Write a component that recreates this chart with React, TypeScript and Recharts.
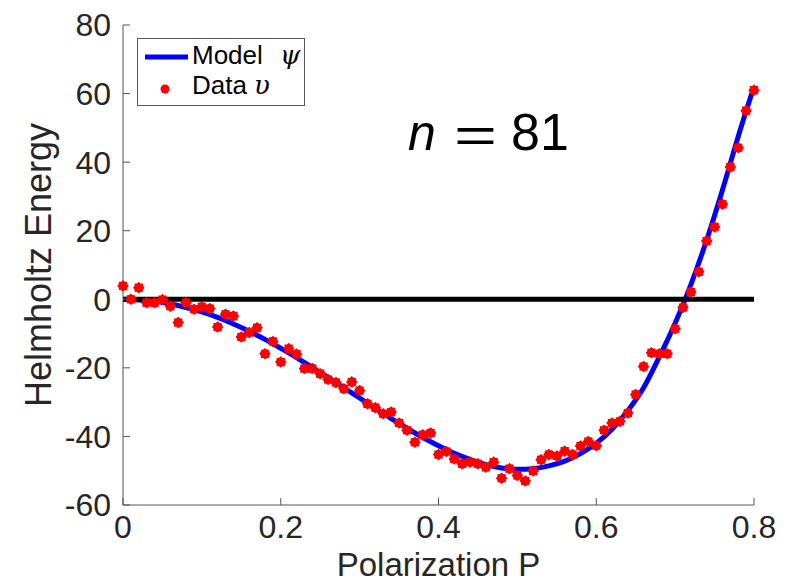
import React from 'react';
import { ComposedChart, Line, Scatter, XAxis, YAxis, ReferenceLine } from 'recharts';

// model curve psi(P)
const modelP = [
  0, 0.02, 0.04, 0.06, 0.08, 0.1, 0.12, 0.14, 0.16, 0.18, 0.2,
  0.22, 0.24, 0.26, 0.28, 0.3, 0.32, 0.34, 0.36, 0.38, 0.4,
  0.42, 0.44, 0.46, 0.48, 0.5, 0.52, 0.54, 0.56, 0.58, 0.6,
  0.62, 0.64, 0.66, 0.68, 0.7, 0.72, 0.74, 0.76, 0.78, 0.8,
];
const modelPsi = [
  0, -0.2, -0.6, -1.3, -2.4, -3.7, -5.3, -7.2, -9.3, -11.7, -14.3,
  -17.0, -19.9, -22.8, -25.8, -28.8, -31.8, -34.8, -37.6, -40.3, -42.7,
  -44.9, -46.7, -48.2, -49.2, -49.6, -49.4, -48.6, -47.2, -45.0, -42.0,
  -37.9, -32.5, -25.8, -16.8, -7.0, 4.3, 17.3, 31.9, 47.5, 62.0,
];

// data v (n = 81)
const dataP = [
  0, 0.01, 0.02, 0.03, 0.04, 0.05, 0.06, 0.07, 0.08, 0.09,
  0.1, 0.11, 0.12, 0.13, 0.14, 0.15, 0.16, 0.17, 0.18, 0.19,
  0.2, 0.21, 0.22, 0.23, 0.24, 0.25, 0.26, 0.27, 0.28, 0.29,
  0.3, 0.31, 0.32, 0.33, 0.34, 0.35, 0.36, 0.37, 0.38, 0.39,
  0.4, 0.41, 0.42, 0.43, 0.44, 0.45, 0.46, 0.47, 0.48, 0.49,
  0.5, 0.51, 0.52, 0.53, 0.54, 0.55, 0.56, 0.57, 0.58, 0.59,
  0.6, 0.61, 0.62, 0.63, 0.64, 0.65, 0.66, 0.67, 0.68, 0.69,
  0.7, 0.71, 0.72, 0.73, 0.74, 0.75, 0.76, 0.77, 0.78, 0.79,
  0.8,
];
const dataV = [
  3.9, 0.0, 3.4, -1.0, -1.0, -0.1, -2.0, -6.8, -1.0, -2.9,
  -2.2, -2.7, -8.1, -4.4, -4.9, -11.0, -9.7, -8.3, -15.9, -12.3,
  -18.3, -14.4, -16.0, -20.2, -20.2, -21.7, -23.4, -24.3, -26.1, -24.1,
  -26.6, -30.5, -31.6, -33.4, -32.9, -36.1, -38.2, -41.7, -39.5, -39.0,
  -45.3, -44.4, -46.6, -48.0, -47.5, -48.0, -49.0, -47.5, -52.2, -49.4,
  -51.4, -53.0, -50.1, -46.8, -45.3, -45.7, -44.3, -45.3, -42.8, -41.5,
  -42.7, -38.2, -36.1, -35.6, -33.2, -27.8, -19.6, -15.6, -15.9, -15.9,
  -8.6, -2.4, 2.1, 8.0, 17.0, 21.1, 27.7, 38.6, 44.2, 55.0,
  61.0,
];

const xTicks = [0, 0.2, 0.4, 0.6, 0.8];
const yTicks = [-60, -40, -20, 0, 20, 40, 60, 80];

const modelRows = modelP.map((p, i) => ({ p, y: modelPsi[i] }));
const dataRows = dataP.map((p, i) => ({ p, y: dataV[i] }));

const FONT = '"Liberation Sans", Arial, Helvetica, sans-serif';
const TEXT = '#262626';
const BOX = '#555';

// MATLAB '*' markers look like fat spiky blobs at this size
const StarDot = (props: any) => {
  const { cx, cy } = props;
  if (cx == null || cy == null) return null;
  const pts: string[] = [];
  for (let k = 0; k < 16; k++) {
    const r = k % 2 === 0 ? 5.8 : 4.6;
    const a = (Math.PI * k) / 8;
    pts.push(`${cx + r * Math.cos(a)},${cy + r * Math.sin(a)}`);
  }
  return <polygon points={pts.join(' ')} fill="#ff0000" />;
};

export default function App() {
  return (
    <div style={{ position: 'absolute', left: 0, top: 0, width: 793, height: 584, background: '#fff' }}>
      <ComposedChart width={793} height={584} margin={{ top: 25, right: 39, left: 0, bottom: 0 }}>
        <XAxis
          dataKey="p"
          type="number"
          domain={[0, 0.8]}
          ticks={xTicks}
          tickFormatter={(v: number) => String(v)}
          height={79}
          tickSize={-7}
          tickMargin={17}
          stroke={BOX}
          tick={{ fill: TEXT, fontSize: 32, fontFamily: FONT }}
          label={{ value: 'Polarization P', position: 'insideBottom', offset: 8, fill: TEXT, fontSize: 33, fontFamily: FONT }}
        />
        <YAxis
          dataKey="y"
          type="number"
          domain={[-60, 80]}
          ticks={yTicks}
          width={123}
          tickSize={-7}
          tickMargin={19}
          stroke={BOX}
          tick={{ fill: TEXT, fontSize: 32, fontFamily: FONT }}
          label={{ value: 'Helmholtz Energy', angle: -90, position: 'insideLeft', offset: 38, fill: TEXT, fontSize: 36, fontFamily: FONT, style: { textAnchor: 'middle' } }}
        />
        <XAxis
          xAxisId="top"
          orientation="top"
          type="number"
          domain={[0, 0.8]}
          ticks={xTicks}
          allowDataOverflow
          height={0}
          tickSize={-7}
          tick={false}
          stroke={BOX}
        />
        <YAxis
          yAxisId="right"
          orientation="right"
          type="number"
          domain={[-60, 80]}
          ticks={yTicks}
          allowDataOverflow
          width={0}
          tickSize={-7}
          tick={false}
          stroke={BOX}
        />
        <Line
          data={modelRows}
          dataKey="y"
          type="monotone"
          stroke="#0000ff"
          strokeWidth={5}
          dot={false}
          activeDot={false}
          isAnimationActive={false}
        />
        <ReferenceLine y={0} stroke="#000" strokeWidth={5} />
        <Scatter data={dataRows} dataKey="y" shape={<StarDot />} isAnimationActive={false} />
      </ComposedChart>

      <svg width={793} height={584} style={{ position: 'absolute', left: 0, top: 0, pointerEvents: 'none' }}>
        <rect x={137.5} y={38.5} width={167} height={67} fill="#fff" stroke={BOX} strokeWidth={1} />
        <line x1={145} x2={188} y1={57} y2={57} stroke="#0000ff" strokeWidth={5} />
        <text x={192} y={63.5} fontSize={26} fontFamily={FONT} fill="#000">Model</text>
        <text x={280} y={63.5} fontSize={26} fontFamily='"DejaVu Serif", serif' fontStyle="italic" fill="#000">ψ</text>
        <circle cx={165} cy={89} r={4.5} fill="#ff0000" />
        <text x={192} y={94} fontSize={26} fontFamily={FONT} fill="#000">Data</text>
        <text x={254} y={94} fontSize={26} fontFamily='"DejaVu Serif", serif' fontStyle="italic" fill="#000">υ</text>

        <text x={408} y={150} fontSize={50} fontFamily={FONT} fontStyle="italic" fill="#000">n</text>
        <text x={454} y={152} fontSize={50} fontFamily={FONT} fill="#000" textLength={43} lengthAdjust="spacingAndGlyphs">=</text>
        <text x={511} y={150} fontSize={52} fontFamily={FONT} fill="#000">81</text>
      </svg>
    </div>
  );
}
